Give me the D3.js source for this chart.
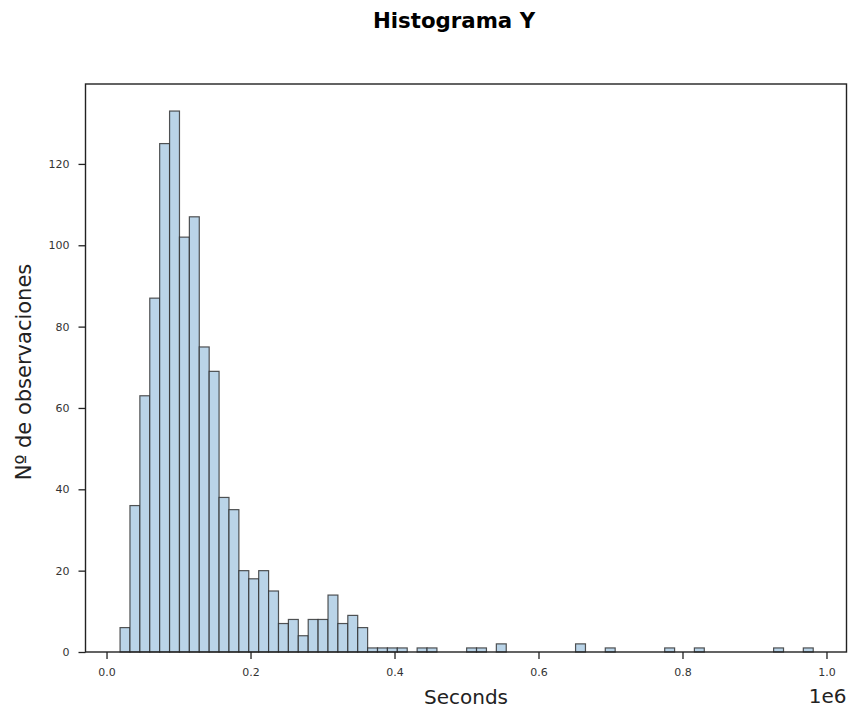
<!DOCTYPE html>
<html>
<head>
<meta charset="utf-8">
<script src="https://cdn.jsdelivr.net/npm/d3@7"></script>
<style>
  body { margin: 0; background: #fff; }
  svg { display: block; font-family: "DejaVu Sans", sans-serif; }
</style>
</head>
<body>
<div id="chart"></div>
<script>
// Histogram bins (seconds) and counts
const binStart = 18800;
const binWidth = 13754;
const counts = [
    6, 36, 63, 87, 125, 133, 102, 107, 75, 69,
    38, 35, 20, 18, 20, 15, 7, 8, 4, 8,
    8, 14, 7, 9, 6, 1, 1, 1, 1, 0,
    1, 1, 0, 0, 0, 1, 1, 0, 2, 0,
    0, 0, 0, 0, 0, 0, 2, 0, 0, 1,
    0, 0, 0, 0, 0, 1, 0, 0, 1, 0,
    0, 0, 0, 0, 0, 0, 1, 0, 0, 1
];
const xTicks = [0, 200000, 400000, 600000, 800000, 1000000];
const yTicks = [0, 20, 40, 60, 80, 100, 120];

const bins = counts.map((c, i) => ({
    x0: binStart + i * binWidth,
    x1: binStart + (i + 1) * binWidth,
    count: c
}));

const W = 848, H = 708;
const plot = { left: 85.5, right: 846.5, top: 84, bottom: 652 };

const x = d3.scaleLinear()
    .domain([-29200, 1027800])
    .range([plot.left, plot.right]);

const y = d3.scaleLinear()
    .domain([0, d3.max(counts) * 1.05])
    .range([plot.bottom, plot.top]);

const svg = d3.select("#chart").append("svg")
    .attr("width", W)
    .attr("height", H);

// Title
svg.append("text")
    .attr("x", 454)
    .attr("y", 28)
    .attr("text-anchor", "middle")
    .style("font-size", "21.3px")
    .style("font-weight", "bold")
    .text("Histograma Y");

// Bars
svg.append("g")
    .selectAll("rect")
    .data(bins.filter(d => d.count > 0))
    .join("rect")
    .attr("x", d => x(d.x0))
    .attr("y", d => y(d.count))
    .attr("width", d => x(d.x1) - x(d.x0))
    .attr("height", d => y(0) - y(d.count))
    .attr("fill", "#bad4e8")
    .attr("stroke", "#2b2b2b")
    .attr("stroke-opacity", 0.8)
    .attr("stroke-width", 1.2);

// x-axis
const xAxis = svg.append("g")
    .attr("transform", `translate(0,${plot.bottom})`)
    .call(d3.axisBottom(x)
        .tickValues(xTicks)
        .tickFormat(d => (d / 1e6).toFixed(1))
        .tickSize(7)
        .tickSizeOuter(0)
        .tickPadding(9));

// y-axis
const yAxis = svg.append("g")
    .attr("transform", `translate(${plot.left},0)`)
    .call(d3.axisLeft(y)
        .tickValues(yTicks)
        .tickSize(7)
        .tickSizeOuter(0)
        .tickPadding(9));

[xAxis, yAxis].forEach(g => {
    g.select(".domain").remove();
    g.selectAll("line").attr("stroke", "#222").attr("stroke-width", 1.3);
    g.selectAll("text")
        .attr("fill", "#333")
        .style("font-size", "11px")
        .style("font-family", "DejaVu Sans, sans-serif");
});

// Frame
svg.append("rect")
    .attr("x", plot.left)
    .attr("y", plot.top)
    .attr("width", plot.right - plot.left)
    .attr("height", plot.bottom - plot.top)
    .attr("fill", "none")
    .attr("stroke", "#222")
    .attr("stroke-width", 1.4);

// Axis labels
svg.append("text")
    .attr("x", (plot.left + plot.right) / 2)
    .attr("y", 704)
    .attr("text-anchor", "middle")
    .attr("fill", "#222")
    .style("font-size", "20px")
    .text("Seconds");

svg.append("text")
    .attr("x", plot.right)
    .attr("y", 703)
    .attr("text-anchor", "end")
    .attr("fill", "#222")
    .style("font-size", "20px")
    .text("1e6");

svg.append("text")
    .attr("transform", `translate(31,${(plot.top + plot.bottom) / 2 + 4}) rotate(-90)`)
    .attr("text-anchor", "middle")
    .attr("fill", "#222")
    .style("font-size", "21px")
    .text("Nº de observaciones");
</script>
</body>
</html>
